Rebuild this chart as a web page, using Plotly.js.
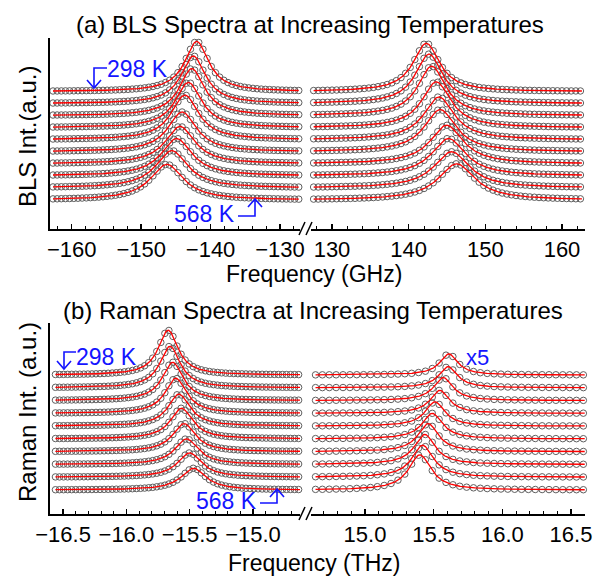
<!DOCTYPE html>
<html>
<head>
<meta charset="utf-8">
<script src="https://cdn.plot.ly/plotly-3.0.1.min.js"></script>
<style>html,body{margin:0;padding:0;background:#fff;}#chart{width:604px;height:577px;}</style>
</head>
<body>
<div id="chart"></div>
<script>
// Temperatures of the stacked spectra (top to bottom)
const temps = [298, 328, 358, 388, 418, 448, 478, 508, 538, 568];

// (a) BLS peak parameters (GHz, a.u.)
const blsNegCenter = [-142.0, -142.5, -142.7, -143.2, -143.7, -144.1, -144.4, -144.9, -145.6, -146.3];
const blsNegHeight = [4.15, 3.95, 3.9, 3.75, 3.7, 3.3, 3.1, 3.1, 3.1, 2.95];
const blsPosCenter = [142.3, 142.65, 143.0, 143.6, 143.95, 144.1, 144.95, 145.2, 145.6, 146.25];
const blsPosHeight = [4.0, 4.1, 4.1, 3.8, 3.55, 3.5, 3.2, 3.1, 3.0, 3.0];
const blsWidth = [4.2, 4.3, 4.4, 4.6, 4.8, 5.0, 5.2, 5.4, 5.6, 5.8];

// (b) Raman peak parameters (THz, a.u.; positive side shown x5)
const ramNegCenter = [-15.67, -15.655, -15.635, -15.61, -15.585, -15.565, -15.545, -15.525, -15.50, -15.47];
const ramNegHeight = [3.5, 3.25, 3.0, 2.75, 2.5, 2.4, 2.2, 2.0, 1.9, 1.7];
const ramNegWidth = [0.19, 0.195, 0.2, 0.205, 0.21, 0.215, 0.22, 0.225, 0.23, 0.24];
const ramPosCenter = [15.61, 15.605, 15.57, 15.545, 15.51, 15.49, 15.46, 15.435, 15.42, 15.40];
const ramPosHeight = [1.65, 1.65, 1.8, 1.8, 1.9, 2.0, 2.2, 2.35, 2.5, 2.75];
const ramPosWidth = [0.16, 0.165, 0.17, 0.17, 0.175, 0.18, 0.18, 0.185, 0.19, 0.2];

// Tick values
const blsTicksNeg = [-160, -150, -140, -130];
const blsTicksPos = [130, 140, 150, 160];
const ramTicksNeg = [-16.5, -16.0, -15.5, -15.0];
const ramTicksPos = [15.0, 15.5, 16.0, 16.5];

// ---------- build traces ----------
function lor(x, c, h, w) { const d = (x - c) / (w / 2); return h / (1 + d * d); }

function build(centers, heights, widths, x0, x1, stepPts, stepLine, xa, ya) {
  const mx = [], my = [], lx = [], ly = [];
  const n = centers.length;
  for (let i = 0; i < n; i++) {
    const off = (n - 1) - i;
    const w = Array.isArray(widths) ? widths[i] : widths;
    const np = Math.round((x1 - x0) / stepPts);
    for (let k = 0; k <= np; k++) {
      const x = x0 + k * stepPts;
      mx.push(x); my.push(off + lor(x, centers[i], heights[i], w));
    }
    mx.push(null); my.push(null);
    const nl = Math.round((x1 - x0) / stepLine);
    for (let k = 0; k <= nl; k++) {
      const x = x0 + k * stepLine;
      lx.push(x); ly.push(off + lor(x, centers[i], heights[i], w));
    }
    lx.push(null); ly.push(null);
  }
  return [
    {x: mx, y: my, xaxis: xa, yaxis: ya, type: 'scatter', mode: 'markers', cliponaxis: false,
     marker: {symbol: 'circle-open', size: 6.5, color: 'rgb(95,95,95)', line: {width: 1}}, hoverinfo: 'skip'},
    {x: lx, y: ly, xaxis: xa, yaxis: ya, type: 'scatter', mode: 'lines', connectgaps: false,
     line: {color: 'rgb(255,0,0)', width: 1.3}, hoverinfo: 'skip'}
  ];
}

const data = [].concat(
  build(blsNegCenter, blsNegHeight, blsWidth, -162.7, -127.3, 0.6, 0.1, 'x', 'y'),
  build(blsPosCenter, blsPosHeight, blsWidth, 127.6, 162.6, 0.6, 0.1, 'x2', 'y2'),
  build(ramNegCenter, ramNegHeight, ramNegWidth, -16.56, -14.62, 0.032, 0.005, 'x3', 'y3'),
  build(ramPosCenter, ramPosHeight, ramPosWidth, 14.64, 16.60, 0.05, 0.005, 'x4', 'y4')
);

// ---------- layout ----------
const FONT = 'Liberation Sans, Arial, sans-serif';
const W = 604, H = 577, ML = 50, MR = 19, MT = 38, MB = 63;
const PW = W - ML - MR, PH = H - MT - MB;
const PX = p => (p - ML) / PW;
const PY = p => (H - MB - p) / PH;

function xax(domain, range, ticks, minorD, anchor) {
  return {
    domain: domain, range: range, anchor: anchor,
    showline: true, linecolor: 'black', linewidth: 2,
    ticks: 'inside', ticklen: 5, tickwidth: 1.5, tickcolor: 'black',
    tickmode: 'array', tickvals: ticks,
    minor: {ticks: 'inside', ticklen: 3, tickwidth: 1, tickcolor: 'black', dtick: minorD, tick0: ticks[0], showgrid: false},
    tickfont: {family: FONT, size: 22, color: 'black'},
    showgrid: false, zeroline: false, fixedrange: true
  };
}
function yax(domain, range, show, anchor) {
  return {
    domain: domain, range: range, anchor: anchor,
    showline: show, linecolor: 'black', linewidth: 2,
    showticklabels: false, ticks: '', showgrid: false, zeroline: false, visible: show, fixedrange: true
  };
}

const dA = [PY(229), 1], dB = [0, PY(323)];
const xL = [0, PX(300)], xR = [PX(311), 1];
const yRangeA = [-2.41, 13.44], yRangeB = [-1.88, 13.07];

const blue = 'rgb(20,20,255)';
function pth(pts) {
  return pts.map((p, i) => (i ? 'L' : 'M') + PX(p[0]).toFixed(5) + ',' + PY(p[1]).toFixed(5)).join(' ');
}
function bl(pts) { return {type: 'path', xref: 'paper', yref: 'paper', path: pth(pts), line: {color: blue, width: 1.6}}; }
function brk(x0, yAx) { return {type: 'line', xref: 'paper', yref: 'paper', x0: PX(x0), y0: PY(yAx + 6), x1: PX(x0 + 6), y1: PY(yAx - 7), line: {color: 'black', width: 1.5}}; }

const shapes = [
  // axis break marks
  brk(299, 229), brk(306, 229), brk(299, 514), brk(306, 514),
  // (a) 298 K arrow
  bl([[107, 68], [94, 68], [94, 88]]), bl([[87, 80], [94, 88], [101, 80]]),
  // (a) 568 K arrow
  bl([[238, 216], [255, 216], [255, 199]]), bl([[248, 207], [255, 199], [262, 207]]),
  // (b) 298 K arrow
  bl([[76, 352], [64, 352], [64, 369]]), bl([[57, 361], [64, 369], [71, 361]]),
  // (b) 568 K arrow
  bl([[260, 503], [277, 503], [277, 489]]), bl([[270, 497], [277, 489], [284, 497]])
];

function ann(text, x, y, size, color, xanchor, angle) {
  return {text: text, xref: 'paper', yref: 'paper', x: PX(x), y: PY(y), xanchor: xanchor || 'center', yanchor: 'middle',
          showarrow: false, textangle: angle || 0, borderpad: 0, font: {family: FONT, size: size, color: color || 'black'}};
}

const annotations = [
  ann('(a) BLS Spectra at Increasing Temperatures', 310, 24, 24),
  ann('(b) Raman Spectra at Increasing Temperatures', 313, 310, 24),
  ann('Frequency (GHz)', 314, 274, 23),
  ann('Frequency (THz)', 314, 563, 23),
  ann('BLS Int.(a.u.)', 27, 137, 24, 'black', 'center', -90),
  ann('Raman Int. (a.u.)', 27, 412, 24, 'black', 'center', -90),
  ann(temps[0] + ' K', 106, 69, 23, blue, 'left'),
  ann(temps[temps.length - 1] + ' K', 173, 214, 23, blue, 'left'),
  ann(temps[0] + ' K', 75, 357, 23, blue, 'left'),
  ann(temps[temps.length - 1] + ' K', 195, 501, 23, blue, 'left'),
  ann('x5', 465, 357, 22, blue, 'left')
];

const layout = {
  width: W, height: H,
  margin: {l: ML, r: MR, t: MT, b: MB, pad: 0},
  paper_bgcolor: 'white', plot_bgcolor: 'rgba(0,0,0,0)',
  showlegend: false,
  font: {family: FONT, color: 'black'},
  xaxis: xax(xL, [-163.13, -127.12], blsTicksNeg, 2, 'y'),
  yaxis: yax(dA, yRangeA, true, 'x'),
  xaxis2: xax(xR, [127.26, 163.0], blsTicksPos, 2, 'y2'),
  yaxis2: yax(dA, yRangeA, false, 'x2'),
  xaxis3: xax(xL, [-16.603, -14.629], ramTicksNeg, 0.1, 'y3'),
  yaxis3: yax(dB, yRangeB, true, 'x3'),
  xaxis4: xax(xR, [14.607, 16.602], ramTicksPos, 0.1, 'y4'),
  yaxis4: yax(dB, yRangeB, false, 'x4'),
  shapes: shapes,
  annotations: annotations
};
layout.xaxis3.ticktext = ramTicksNeg.map(v => '\u2212' + Math.abs(v).toFixed(1));
layout.xaxis4.ticktext = ramTicksPos.map(v => v.toFixed(1));

Plotly.newPlot('chart', data, layout, {staticPlot: true, displayModeBar: false});
</script>
</body>
</html>
